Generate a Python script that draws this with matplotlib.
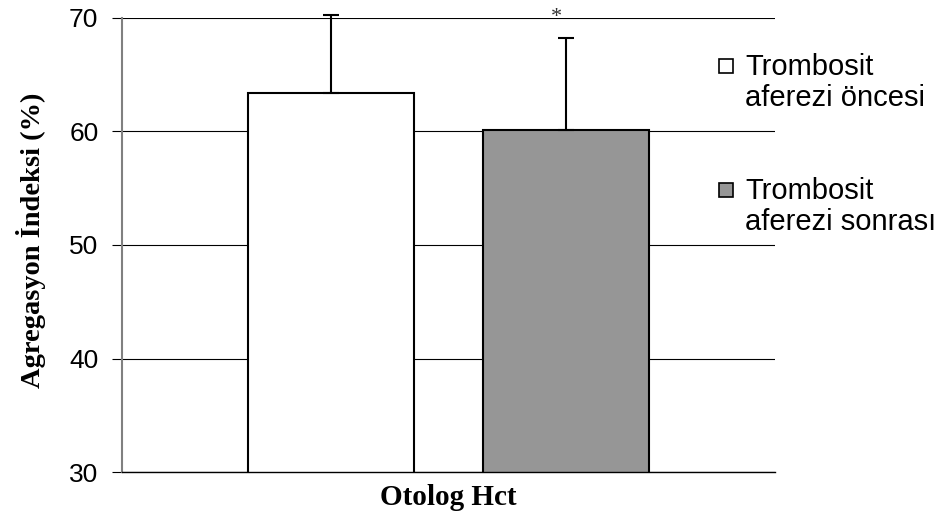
import numpy as np
import matplotlib
matplotlib.use('Agg')
import matplotlib.pyplot as plt
from matplotlib.patches import Rectangle

# Data
category = "Otolog Hct"
groups = ["Trombosit\naferezi öncesi", "Trombosit\naferezi sonrası"]
means = [63.4, 60.1]
sd_upper = [6.8, 8.1]
bar_colors = ["white", "#969696"]
marks = ["", "*"]
y_ticks = [30, 40, 50, 60, 70]

SANS = "Liberation Sans"
SERIF = "Liberation Serif"

fig = plt.figure(figsize=(9.43, 5.23), dpi=100)
ax = fig.add_axes([0.1294, 0.0969, 0.6925, 0.8696])

x = np.arange(len(groups))
ax.bar(x, means, width=0.71, color=bar_colors, edgecolor="black", linewidth=1.5, zorder=2)

err = ax.errorbar(x, means, yerr=[np.zeros(len(sd_upper)), sd_upper], fmt="none",
                  ecolor="black", elinewidth=1.5, capsize=5.5, capthick=1.5, zorder=3)
for artist in err.get_children():
    artist.set_clip_on(False)

# significance marks above the bars
for xi, m in zip(x, marks):
    if m:
        ax.text(xi - 0.04, 70.0, m, ha="center", va="center", fontsize=16,
                family=SERIF, color="#333333", clip_on=False)

ax.set_xlim(-0.89, 1.89)
ax.set_ylim(y_ticks[0], y_ticks[-1])
ax.set_yticks(y_ticks)
ax.set_xticks([])

ax.yaxis.grid(True, color="black", linewidth=0.8)
ax.set_axisbelow(True)

ax.spines["top"].set_visible(False)
ax.spines["right"].set_visible(False)
ax.spines["left"].set_color("#808080")
ax.spines["left"].set_linewidth(1.5)
ax.spines["bottom"].set_color("black")
ax.spines["bottom"].set_linewidth(1.0)

ax.tick_params(axis="y", length=7, width=0.8, color="black", pad=10, labelsize=19)
for lbl in ax.get_yticklabels():
    lbl.set_family(SANS)

ax.set_xlabel(category, fontsize=21, fontweight="bold", family=SERIF)
ax.xaxis.set_label_coords(0.5, -0.025)
ax.set_ylabel("Agregasyon İndeksi (%)", fontsize=20.5, fontweight="bold", family=SERIF)
ax.yaxis.set_label_coords(-0.117, 0.511)

# legend drawn by hand to keep Excel-like placement
for i, (label, color) in enumerate(zip(groups, bar_colors)):
    top = 56 + i * 124
    fig.patches.append(Rectangle((719 / 943, 1 - (top + 17) / 523), 14 / 943, 14 / 523,
                                 transform=fig.transFigure, facecolor=color,
                                 edgecolor="black", linewidth=1.2))
    fig.text(745 / 943, 1 - (top - 3) / 523, label, ha="left", va="top",
             fontsize=21, family=SANS, linespacing=1.13)

fig.savefig("out.png", dpi=100)
plt.close(fig)
